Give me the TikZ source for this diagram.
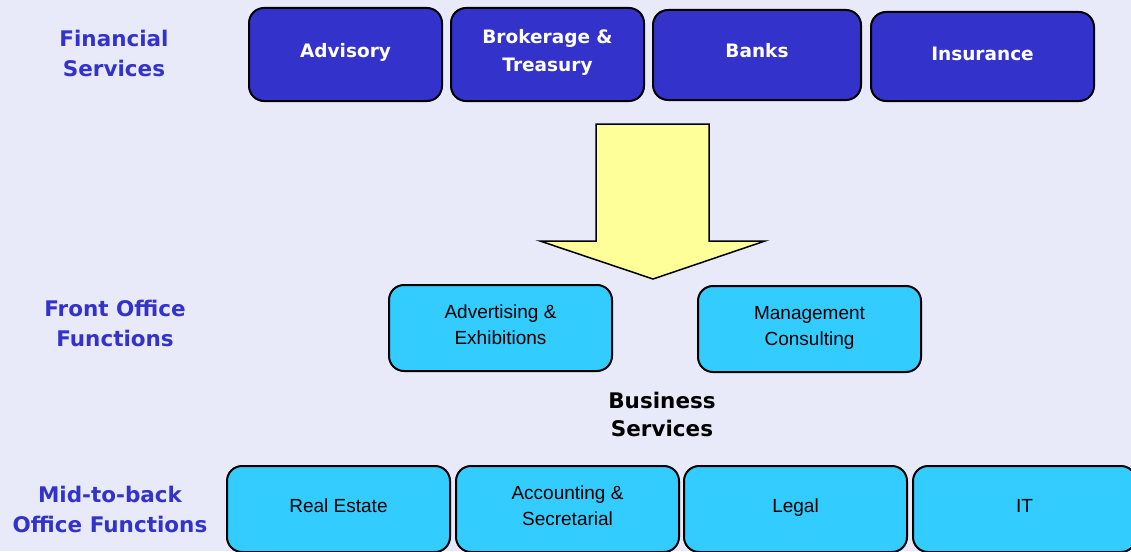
\documentclass[tikz,border=0pt]{standalone}
\usepackage{fontspec}
\setmainfont{Liberation Sans}
\newfontfamily\headfont{DejaVu Sans}
\definecolor{bgcol}{HTML}{E8EAFA}
\definecolor{navy}{HTML}{3333CC}
\definecolor{sky}{HTML}{33CCFF}
\definecolor{pale}{HTML}{FFFF99}
\begin{document}
\begin{tikzpicture}[x=1pt,y=-1pt,
  tile/.style={draw=black, line width=2pt, rounded corners=15pt,
    minimum width=223pt, minimum height=86pt, inner sep=0pt},
  fintile/.style={tile, fill=navy, minimum width=193pt, minimum height=93pt},
  svctile/.style={tile, fill=sky},
  % multi-line text nodes are placed by the baseline of their last line
  fintext/.style={anchor=base, align=center, text=white, inner sep=0pt,
    font=\headfont\bfseries\fontsize{18.5}{28}\selectfont},
  svctext/.style={anchor=base, align=center, text=black, inner sep=0pt,
    font=\fontsize{19}{26}\selectfont},
  rowlabel/.style={anchor=base, align=center, text=navy, inner sep=0pt,
    font=\headfont\bfseries\fontsize{21.5}{30}\selectfont},
  flowarrow/.style={draw=black, line width=1.5pt, fill=pale, line join=miter}]

% canvas
\path[use as bounding box, fill=bgcol] (0,0) rectangle (1131,551);

% row labels
\node[rowlabel] (finlabel) at (114,77) {Financial\\Services};
\node[rowlabel] (frontlabel) at (115,346) {Front Office\\Functions};
\node[rowlabel] (backlabel) at (110,532) {Mid-to-back\\Office Functions};

% financial services
\node[fintile] (advisory) at (345.5,54.5) {};
\node[fintile] (brokerage) at (547.5,54.5) {};
\node[fintile, minimum width=208pt, minimum height=90pt] (banks) at (757,55) {};
\node[fintile, minimum width=223pt, minimum height=89pt] (insurance) at (982.5,56.5) {};
\node[fintext] (advisoryT) at (advisory.center |- 0,57) {Advisory};
\node[fintext] (brokerageT) at (brokerage.center |- 0,71) {Brokerage \&\\Treasury};
\node[fintext] (banksT) at (banks.center |- 0,58) {Banks};
\node[fintext] (insuranceT) at (insurance.center |- 0,60) {Insurance};

% downward block arrow
\draw[flowarrow] (596,124) -- (709,124) -- (709,241) -- (765,241)
  -- (653,279) -- (540,241) -- (596,241) -- cycle;

% front office functions
\node[svctile] (advert) at (500.5,328) {};
\node[svctile] (mgmt) at (809.5,329) {};
\node[svctext] (advertT) at (advert.center |- 0,344) {Advertising \&\\Exhibitions};
\node[svctext] (mgmtT) at (mgmt.center |- 0,345) {Management\\Consulting};

% business services caption
\node[rowlabel, text=black, font=\headfont\bfseries\fontsize{21.5}{28}\selectfont]
  (business) at (662,436) {Business\\Services};

% mid-to-back office functions
\node[svctile] (realestate) at (338.5,509) {};
\node[svctile] (accounting) at (567.5,509) {};
\node[svctile] (legal) at (795.5,509) {};
\node[svctile] (it) at (1024.5,509) {};
\node[svctext] (realestateT) at (realestate.center |- 0,512) {Real Estate};
\node[svctext] (accountingT) at (accounting.center |- 0,525) {Accounting \&\\Secretarial};
\node[svctext] (legalT) at (legal.center |- 0,512) {Legal};
\node[svctext] (itT) at (it.center |- 0,512) {IT};
\end{tikzpicture}
\end{document}
